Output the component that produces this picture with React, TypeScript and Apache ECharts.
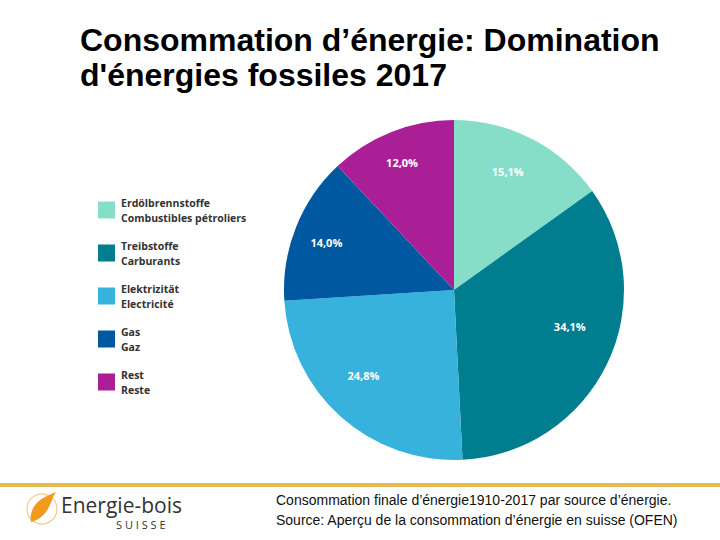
import React, { useEffect, useRef } from "react";
import * as echarts from "echarts";

const categories = ["Erdölbrennstoffe", "Treibstoffe", "Elektrizität", "Gas", "Rest"];
const frenchNames = ["Combustibles pétroliers", "Carburants", "Electricité", "Gaz", "Reste"];
const values = [15.1, 34.1, 24.8, 14.0, 12.0];
const colors = ["#86DEC8", "#007D8E", "#36B2DC", "#0058A0", "#AA1F96"];
const labelOffsets = [[-7, 0], [-4, -21], [-2, -14], [-4, 1], [-3, -4]];

const titleText = "Consommation d’énergie: Domination\nd'énergies fossiles 2017";
const footerText =
  "Consommation finale d’énergie1910-2017 par source d’énergie.\nSource: Aperçu de la consommation d’énergie en suisse (OFEN)";

const flamePath =
  "M2 30 C0 20 6 10 16 5 C20 3 24 1 27 0 C24 4 23 9 20 15 C16 23 10 28 2 30 Z";

let registered = false;
function registerShapes() {
  if (registered) return;
  echarts.graphic.registerShape("logo", (echarts.graphic as any).extendPath(flamePath, {}));
  registered = true;
}

export default function App() {
  const ref = useRef<HTMLDivElement>(null);
  useEffect(() => {
    if (!ref.current) return;
    registerShapes();
    const chart = echarts.init(ref.current, null, { renderer: "svg" });
    const data = categories.map((name, i) => ({
      name,
      value: values[i],
      itemStyle: { color: colors[i] },
    }));
    const fmt = (p: any) => p.value.toFixed(1).replace(".", ",") + "%";
    chart.setOption({
      animation: false,
      backgroundColor: "#ffffff",
      title: {
        text: titleText,
        left: 75,
        top: 17,
        textStyle: {
          fontFamily: "Liberation Sans, Arial, sans-serif",
          fontSize: 32,
          fontWeight: "bold",
          color: "#000",
          lineHeight: 35,
        },
      },
      legend: {
        orient: "vertical",
        left: 98,
        top: 195,
        padding: 0,
        itemWidth: 17,
        itemHeight: 17,
        itemGap: 13,
        icon: "rect",
        data: categories,
        formatter: (name: string) => name + "\n" + frenchNames[categories.indexOf(name)],
        textStyle: {
          fontFamily: "Open Sans, sans-serif",
          fontSize: 10.5,
          fontWeight: "bold",
          color: "#333",
          lineHeight: 15,
          padding: [0, 0, 0, 1],
        },
        selectedMode: false,
      },
      series: [
        {
          type: "pie",
          center: [454, 290],
          radius: [0, 170],
          startAngle: 90,
          clockwise: true,
          silent: true,
          data,
          label: { show: false },
          labelLine: { show: false },
        },
        {
          type: "pie",
          center: [454, 290],
          radius: [0, 260],
          startAngle: 90,
          clockwise: true,
          silent: true,
          legendHoverLink: false,
          data: categories.map((name, i) => ({
            name: name + " ",
            value: values[i],
            itemStyle: { color: "rgba(0,0,0,0)" },
            label: { offset: labelOffsets[i] },
          })),
          label: {
            show: true,
            position: "inside",
            formatter: fmt,
            color: "#fff",
            fontFamily: "Open Sans, sans-serif",
            fontSize: 11,
            fontWeight: "bold",
          },
          labelLine: { show: false },
        },
      ],
      graphic: [
        {
          type: "rect",
          shape: { x: 0, y: 483, width: 720, height: 4 },
          style: { fill: "#E6B94E" },
          silent: true,
        },
        {
          type: "circle",
          shape: { cx: 42, cy: 509, r: 15 },
          style: { fill: "none", stroke: "#F3C98A", lineWidth: 1.2 },
          silent: true,
        },
        {
          type: "logo",
          x: 29,
          y: 492,
          scaleX: 1,
          scaleY: 1,
          style: { fill: "#F29A1E" },
          silent: true,
        },
        {
          type: "text",
          x: 61,
          y: 494,
          style: {
            text: "Energie-bois",
            fontFamily: "Open Sans, sans-serif",
            fontSize: 21,
            fill: "#333",
          },
          silent: true,
        },
        {
          type: "text",
          x: 116,
          y: 519,
          style: {
            text: "S U I S S E",
            fontFamily: "Open Sans, sans-serif",
            fontSize: 11,
            fill: "#333",
          },
          silent: true,
        },
        {
          type: "text",
          x: 276,
          y: 490,
          style: {
            text: footerText,
            fontFamily: "Liberation Sans, Arial, sans-serif",
            fontSize: 14,
            lineHeight: 20,
            fill: "#111",
          },
          silent: true,
        },
      ],
    });
    return () => chart.dispose();
  }, []);
  return <div ref={ref} style={{ width: 720, height: 540, position: "absolute", left: 0, top: 0 }} />;
}
